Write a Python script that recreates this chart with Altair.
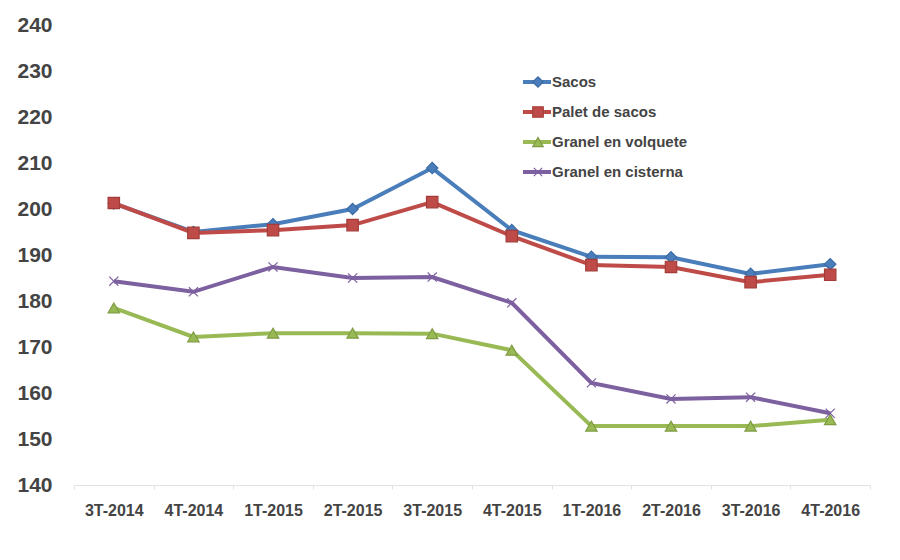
import altair as alt
import pandas as pd

quarters = ["3T-2014", "4T-2014", "1T-2015", "2T-2015", "3T-2015",
            "4T-2015", "1T-2016", "2T-2016", "3T-2016", "4T-2016"]
series_names = ["Sacos", "Palet de sacos", "Granel en volquete", "Granel en cisterna"]
sacos = [201.2, 195.0, 196.7, 200.0, 208.9, 195.4, 189.6, 189.5, 185.9, 188.0]
palet = [201.3, 194.8, 195.4, 196.5, 201.5, 194.1, 187.8, 187.4, 184.1, 185.7]
volquete = [178.5, 172.2, 173.0, 173.0, 172.9, 169.3, 152.8, 152.8, 152.8, 154.2]
cisterna = [184.3, 182.0, 187.4, 185.0, 185.2, 179.6, 162.2, 158.7, 159.1, 155.6]

line_colors = ["#4a7ebb", "#be4b48", "#98b954", "#7d60a0"]
edge_colors = ["#3b6ba5", "#a33c39", "#7f9c43", "#7d60a0"]
shapes = ["diamond", "square", "triangle-up", "M-0.8,-0.8L0.8,0.8M0.8,-0.8L-0.8,0.8"]

rows = []
for name, vals in zip(series_names, [sacos, palet, volquete, cisterna]):
    for q, v in zip(quarters, vals):
        rows.append({"series": name, "quarter": q, "value": v})
df = pd.DataFrame(rows)
legend_df = pd.DataFrame({"series": series_names, "rank": list(range(len(series_names)))})

FONT = "Liberation Sans"
color_scale = alt.Scale(domain=series_names, range=line_colors)
fill_scale = alt.Scale(domain=series_names, range=line_colors)
stroke_scale = alt.Scale(domain=series_names, range=edge_colors)
shape_scale = alt.Scale(domain=series_names, range=shapes)

x_enc = alt.X("quarter:N", sort=quarters, title=None,
              scale=alt.Scale(type="band", paddingInner=0, paddingOuter=0),
              axis=alt.Axis(labelAngle=0, labelFont=FONT, labelFontSize=16, labelFontWeight="bold",
                            labelColor="#444444", domainColor="#e2e2e2", tickColor="#e2e2e2",
                            tickSize=4, tickBand="extent", labelPadding=13, grid=False))
y_enc = alt.Y("value:Q", title=None,
              scale=alt.Scale(domain=[140, 240], nice=False, zero=False),
              axis=alt.Axis(values=list(range(140, 241, 10)), domain=False, ticks=False, grid=False,
                            labelFont=FONT, labelFontSize=21, labelFontWeight="bold",
                            labelColor="#444444", labelPadding=22))

lines = alt.Chart(df).mark_line(strokeWidth=4).encode(
    x=x_enc, y=y_enc,
    color=alt.Color("series:N", scale=color_scale, legend=None),
    detail="series:N",
)
points = alt.Chart(df).mark_point(filled=True, size=130, strokeWidth=1.2, opacity=1).encode(
    x=x_enc, y=y_enc,
    fill=alt.Fill("series:N", scale=fill_scale, legend=None),
    stroke=alt.Stroke("series:N", scale=stroke_scale, legend=None),
    shape=alt.Shape("series:N", scale=shape_scale, legend=None),
)
main = alt.layer(lines, points)

ly = alt.Y("rank:Q", scale=alt.Scale(domain=[0, 3], range=[57, 147]), axis=None)
lrule = alt.Chart(legend_df).mark_rule(strokeWidth=4).encode(
    x=alt.value(449), x2=alt.value(477), y=ly,
    color=alt.Color("series:N", scale=color_scale, legend=None),
)
lpoint = alt.Chart(legend_df).mark_point(filled=True, size=110, strokeWidth=1.2, opacity=1).encode(
    x=alt.value(464), y=ly,
    fill=alt.Fill("series:N", scale=fill_scale, legend=None),
    stroke=alt.Stroke("series:N", scale=stroke_scale, legend=None),
    shape=alt.Shape("series:N", scale=shape_scale, legend=None),
)
ltext = alt.Chart(legend_df).mark_text(align="left", baseline="middle", font=FONT, fontSize=15,
                                        fontWeight="bold", color="#444444").encode(
    x=alt.value(478), y=ly, text="series:N",
)
legend = alt.layer(lrule, lpoint, ltext)

chart = alt.layer(main, legend).resolve_scale(y="independent").properties(
    width=796, height=460,
    autosize=alt.AutoSizeParams(type="none"),
    padding={"left": 66, "top": 17, "right": 20, "bottom": 50},
    background="white",
).configure_view(stroke=None)

chart.save("out.html", embed_options={"renderer": "svg", "actions": False})
